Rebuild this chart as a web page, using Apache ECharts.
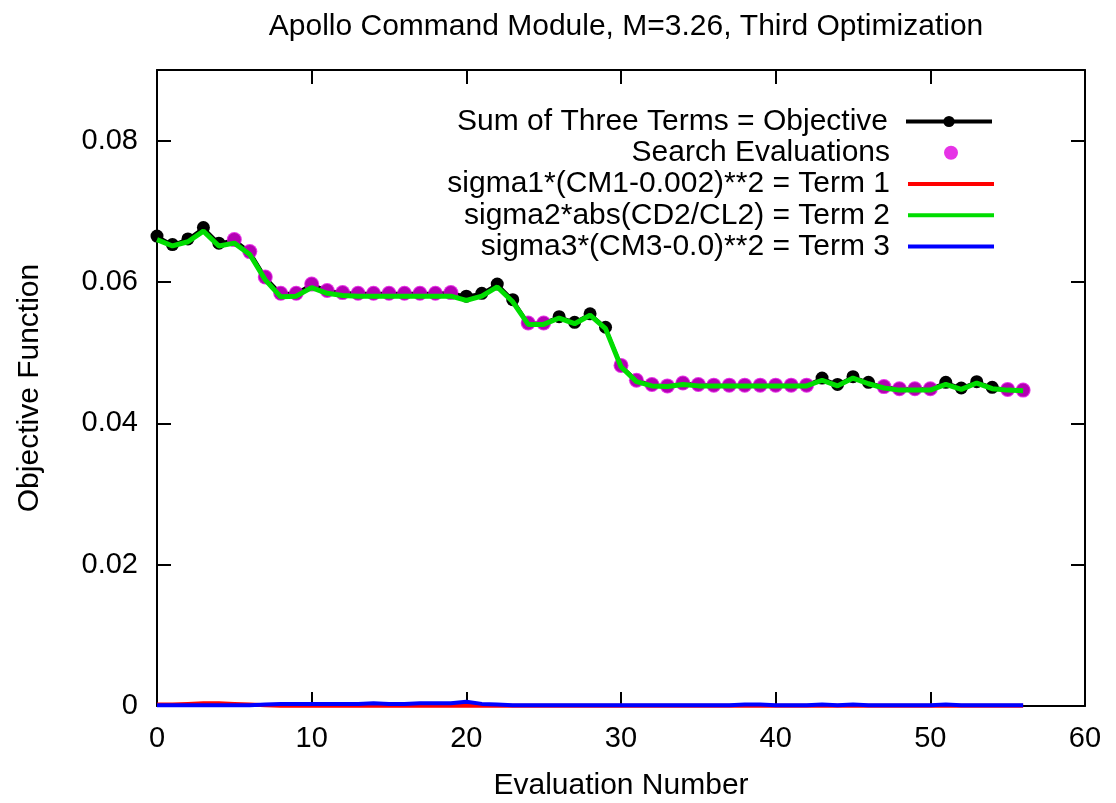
<!DOCTYPE html>
<html>
<head>
<meta charset="utf-8">
<script src="https://cdn.jsdelivr.net/npm/echarts@6/dist/echarts.min.js"></script>
<style>
  html, body { margin: 0; padding: 0; background: #fff; }
  #chart { width: 1116px; height: 803px; }
</style>
</head>
<body>
<div id="chart"></div>
<script>
// Evaluation numbers 0..56
const evalNumber = [0,1,2,3,4,5,6,7,8,9,10,11,12,13,14,15,16,17,18,19,20,21,22,23,24,25,26,27,28,29,30,31,32,33,34,35,36,37,38,39,40,41,42,43,44,45,46,47,48,49,50,51,52,53,54,55,56];

// Sum of the three terms (objective) at each evaluation
const objective = [0.0665,0.0653,0.0661,0.0677,0.0655,0.0660,0.0643,0.0607,0.0584,0.0584,
                   0.0597,0.0588,0.0585,0.0584,0.0584,0.0584,0.0584,0.0584,0.0584,0.0585,
                   0.0580,0.0584,0.0597,0.0575,0.0542,0.0542,0.0551,0.0543,0.0555,0.0536,
                   0.0482,0.0461,0.0455,0.0453,0.0457,0.0455,0.0454,0.0454,0.0454,0.0454,
                   0.0454,0.0454,0.0454,0.0464,0.0455,0.0466,0.0458,0.0452,0.0449,0.0449,
                   0.0449,0.0458,0.0450,0.0459,0.0451,0.0448,0.0447];

// Evaluations taken by the search step
const searchEvals = [5,6,7,8,9,10,11,12,13,14,15,16,17,18,19,24,25,
                     30,31,32,33,34,35,36,37,38,39,40,41,42,47,48,49,50,55,56];

// Term 1: sigma1*(CM1-0.002)**2
const term1 = [0.0002,0.0002,0.0003,0.0004,0.0004,0.0003,0.0002,0.0001,0.00005,0.00005,
               0.00005,0.00005,0.00005,0.00005,0.00005,0.00005,0.00005,0.00005,0.00005,0.00005,
               0.00005,0.00005,0.00005,0.00005,0.00005,0.00005,0.00005,0.00005,0.00005,0.00005,
               0.00005,0.00005,0.00005,0.00005,0.00005,0.00005,0.00005,0.00005,0.00005,0.00005,
               0.00005,0.00005,0.00005,0.00005,0.00005,0.00005,0.00005,0.00005,0.00005,0.00005,
               0.00005,0.00005,0.00005,0.00005,0.00005,0.00005,0.00005];

// Term 2: sigma2*abs(CD2/CL2)
const term2 = [0.0660,0.0651,0.0657,0.0672,0.0651,0.0655,0.0639,0.0603,0.0579,0.0580,
               0.0592,0.0584,0.0581,0.0580,0.0580,0.0580,0.0580,0.0580,0.0580,0.0580,
               0.0574,0.0580,0.0593,0.0572,0.0540,0.0540,0.0549,0.0541,0.0553,0.0534,
               0.0480,0.0459,0.0453,0.0452,0.0455,0.0453,0.0453,0.0453,0.0453,0.0453,
               0.0453,0.0453,0.0453,0.0461,0.0453,0.0464,0.0456,0.0450,0.0447,0.0447,
               0.0447,0.0455,0.0448,0.0457,0.0449,0.0447,0.0446];

// Term 3: sigma3*(CM3-0.0)**2
const term3 = [0.0001,0.0001,0.0001,0.0001,0.0001,0.0001,0.0001,0.0002,0.0003,0.0003,
               0.0003,0.0003,0.0003,0.0003,0.0004,0.0003,0.0003,0.0004,0.0004,0.0004,
               0.0006,0.0003,0.0002,0.0001,0.0001,0.0001,0.0001,0.0001,0.0001,0.0001,
               0.0001,0.0001,0.0001,0.0001,0.0001,0.0001,0.0001,0.0001,0.0002,0.0002,
               0.0001,0.0001,0.0001,0.0002,0.0001,0.0002,0.0001,0.0001,0.0001,0.0001,
               0.0001,0.0002,0.0001,0.0001,0.0001,0.0001,0.0001];

const names = [
  'Sum of Three Terms = Objective',
  'Search Evaluations',
  'sigma1*(CM1-0.002)**2 = Term 1',
  'sigma2*abs(CD2/CL2) = Term 2',
  'sigma3*(CM3-0.0)**2 = Term 3'
];

const pairs = arr => evalNumber.map((x, i) => [x, arr[i]]);
const searchPoints = searchEvals.map(i => [evalNumber[i], objective[i]]);

const FONT = 'Liberation Sans, Arial, sans-serif';
const FS = 30;      // title, legend and axis names
const FS_TICK = 29; // tick labels
const axisLine = () => ({ show: true, onZero: false, lineStyle: { color: '#000', width: 2 } });
const tickIn = () => ({ show: true, inside: true, length: 14, lineStyle: { color: '#000', width: 2 } });

// Legend: one block per entry so each label is right-aligned against its sample
const ROW0 = 106.5, ROWH = 31.25, KEY_RIGHT = 122, KEY_W = 86;
const legendText = pad => ({ fontFamily: FONT, fontSize: FS, color: '#000', padding: [0, pad, 0, 0] });
const legends = [
  {
    data: [names[0]], right: KEY_RIGHT, top: ROW0, align: 'right', padding: 0,
    itemWidth: KEY_W, itemHeight: 14, selectedMode: false,
    lineStyle: { width: 4, color: '#000' }, itemStyle: { color: '#000' },
    textStyle: legendText(13)
  },
  {
    data: [{ name: names[1], icon: 'circle' }], right: KEY_RIGHT + KEY_W / 2 - 7, top: ROW0 + ROWH,
    align: 'right', padding: 0, itemWidth: 14, itemHeight: 14, selectedMode: false,
    textStyle: legendText(13 + KEY_W / 2 - 7)
  }
].concat([2, 3, 4].map(k => ({
  data: [{ name: names[k], icon: 'rect' }], right: KEY_RIGHT, top: ROW0 + k * ROWH,
  align: 'right', padding: 0, itemWidth: KEY_W, itemHeight: 4, selectedMode: false,
  textStyle: legendText(13)
})));

const chart = echarts.init(document.getElementById('chart'), null, { renderer: 'canvas' });
chart.setOption({
  backgroundColor: '#fff',
  animation: false,
  title: {
    text: 'Apollo Command Module, M=3.26, Third Optimization',
    left: 621, top: 7, textAlign: 'center',
    textStyle: { fontFamily: FONT, fontSize: FS, fontWeight: 'normal', color: '#000' }
  },
  legend: legends,
  grid: { left: 157, right: 31, top: 70, bottom: 97, containLabel: false, outerBoundsMode: 'none' },
  xAxis: [
    {
      type: 'value', min: 0, max: 60, interval: 10, position: 'bottom',
      name: 'Evaluation Number', nameLocation: 'middle', nameGap: 65,
      nameTextStyle: { fontFamily: FONT, fontSize: FS, color: '#000' },
      axisLine: axisLine(), axisTick: tickIn(), splitLine: { show: false },
      axisLabel: { fontFamily: FONT, fontSize: FS_TICK, color: '#000', margin: 18 }
    },
    {
      type: 'value', min: 0, max: 60, interval: 10, position: 'top',
      axisLine: axisLine(), axisTick: tickIn(), splitLine: { show: false }, axisLabel: { show: false }
    }
  ],
  yAxis: [
    {
      type: 'value', min: 0, max: 0.09, interval: 0.02, position: 'left',
      name: 'Objective Function', nameLocation: 'middle', nameGap: 112,
      nameTextStyle: { fontFamily: FONT, fontSize: FS, color: '#000' },
      axisLine: axisLine(), axisTick: tickIn(), splitLine: { show: false },
      axisLabel: {
        fontFamily: FONT, fontSize: FS_TICK, color: '#000', margin: 19,
        formatter: v => (Math.abs(v - 0.09) < 1e-9 ? '' : (v === 0 ? '0' : v.toFixed(2)))
      }
    },
    {
      type: 'value', min: 0, max: 0.09, interval: 0.02, position: 'right',
      axisLine: axisLine(), axisTick: tickIn(), splitLine: { show: false }, axisLabel: { show: false }
    }
  ],
  series: [
    {
      name: names[0], type: 'line', data: pairs(objective),
      symbol: 'circle', symbolSize: 13, showSymbol: true,
      itemStyle: { color: '#000' }, lineStyle: { color: '#000', width: 3 }, z: 1
    },
    {
      name: names[1], type: 'scatter', data: searchPoints,
      symbol: 'circle', symbolSize: 15,
      itemStyle: { color: '#e000e0' }, z: 2
    },
    {
      name: names[2], type: 'line', data: pairs(term1), symbol: 'none',
      itemStyle: { color: '#ff0000' }, lineStyle: { color: '#ff0000', width: 4 }, z: 3
    },
    {
      name: names[3], type: 'line', data: pairs(term2), symbol: 'none',
      itemStyle: { color: '#00dd00' }, lineStyle: { color: '#00dd00', width: 5 }, z: 4
    },
    {
      name: names[4], type: 'line', data: pairs(term3), symbol: 'none',
      itemStyle: { color: '#0000ff' }, lineStyle: { color: '#0000ff', width: 4 }, z: 5
    }
  ]
});
</script>
</body>
</html>
